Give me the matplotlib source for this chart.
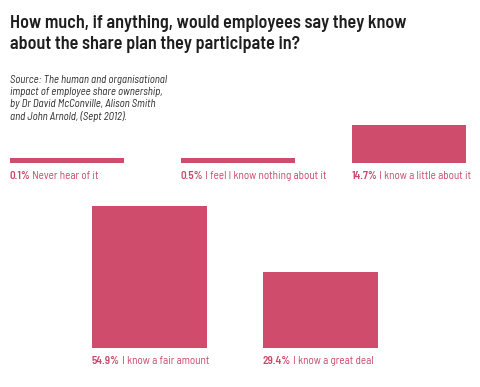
import matplotlib
matplotlib.use("Agg")
import matplotlib.pyplot as plt

# ---- data ----
title = "How much, if anything, would employees say they know\nabout the share plan they participate in?"
source = ("Source: The human and organisational\nimpact of employee share ownership,\n"
          "by Dr David McConville, Alison Smith\nand John Arnold, (Sept 2012).")
top_labels = ["Never hear of it", "I feel I know nothing about it", "I know a little about it"]
top_values = [0.1, 0.5, 14.7]
bottom_labels = ["I know a fair amount", "I know a great deal"]
bottom_values = [54.9, 29.4]
top_pos = [0, 1, 2]
bottom_pos = [0.48, 1.48]

BAR = "#D04C6C"
TXT = "#C9486A"
MIN_H = 2.0  # minimum visible bar height (style)
FONT = ["Barlow Semi Condensed", "DejaVu Sans"]

fig = plt.figure(figsize=(4.8, 3.87), dpi=100)
fig.patch.set_facecolor("white")

fig.text(10/480, 1 - 15/387, title, fontsize=13.0, fontweight="semibold", family=FONT,
         color="#1e1e1e", va="top", ha="left", linespacing=1.27)
fig.text(10/480, 1 - 75/387, source, fontsize=7.8, style="italic", fontweight="normal",
         family=FONT, color="#2a2a2a", va="top", ha="left", linespacing=1.25)

xlim = (-0.392, 2.415)

def row(rect, pos, vals, labels, ylim):
    ax = fig.add_axes(rect)
    disp = [max(v, MIN_H) for v in vals]
    ax.bar(pos, disp, width=0.672, color=BAR, align="center")
    ax.set_xlim(*xlim)
    ax.set_ylim(*ylim)
    ax.axis("off")
    for p, v, lab in zip(pos, vals, labels):
        t = ax.annotate(f"{v:.1f}%", xy=(p - 0.336, 0), xytext=(0, -6),
                        textcoords="offset points", ha="left", va="top",
                        fontsize=8, fontweight="semibold", family=FONT, color=TXT,
                        annotation_clip=False)
        ax.annotate(" " + lab, xy=(1, 0), xycoords=t, ha="left", va="bottom",
                    fontsize=8, family=FONT, color=TXT, annotation_clip=False)
    return ax

row([0, (387-163)/387, 1, 20*2.59/387], top_pos, top_values, top_labels, (0, 20))
row([0, (387-348)/387, 1, 60*2.59/387], bottom_pos, bottom_values, bottom_labels, (0, 60))

fig.savefig("out.png", dpi=100, facecolor="white")
